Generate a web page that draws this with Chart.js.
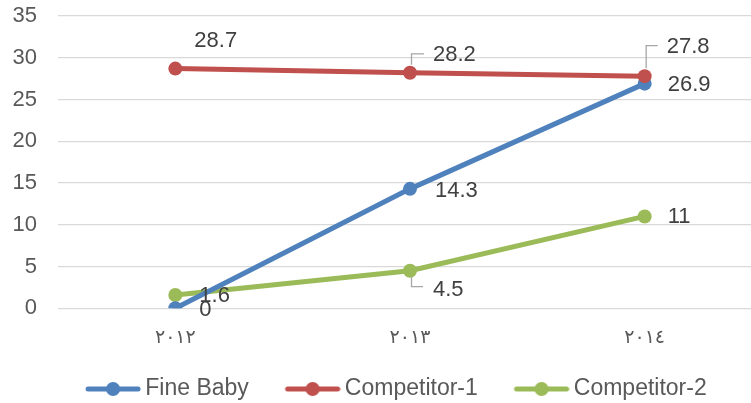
<!DOCTYPE html>
<html lang="en">
<head>
    <meta charset="UTF-8">
    <title>Fine Baby vs Competitors</title>
    <script src="https://cdn.jsdelivr.net/npm/chart.js"></script>
    <style>
        html, body { margin: 0; padding: 0; background: #fff; overflow: hidden; }
        #wrap { width: 751px; height: 403px; overflow: hidden; }
        #box { width: 769px; height: 412px; position: relative; }
    </style>
</head>
<body>
    <div id="wrap"><div id="box"><canvas id="salesChart" width="769" height="412"></canvas></div></div>

    <script>
        // data
        const years = ['٢٠١٢', '٢٠١٣', '٢٠١٤'];
        const fineBaby = [0, 14.3, 26.9];
        const competitor1 = [28.7, 28.2, 27.8];
        const competitor2 = [1.6, 4.5, 11];
        const yMin = 0, yMax = 35, yStep = 5;

        const blue = '#4F81BD', red = '#C0504D', green = '#9BBB59';
        const textGray = '#595959';

        // where each value label sits relative to its point (dx to text left, dy to text middle)
        const labelPlacement = [
            [{dx: 24, dy: 2}, {dx: 25, dy: 2}, {dx: 23, dy: 1.5}],
            [{dx: 19, dy: -28}, {dx: 23, dy: -18, leader: 'up'}, {dx: 22, dy: -29.5, leader: 'up'}],
            [{dx: 24, dy: 1}, {dx: 23, dy: 19, leader: 'down'}, {dx: 23, dy: 1}]
        ];

        // legend marker: thick line with a dot, sitting at the right end of a wider transparent image
        const markBox = 64.5;
        function legendMark(color) {
            const c = document.createElement('canvas');
            c.width = markBox + 15; c.height = 16;
            const g = c.getContext('2d');
            const x0 = c.width - 56;
            g.strokeStyle = color;
            g.lineWidth = 5;
            g.lineCap = 'round';
            g.beginPath(); g.moveTo(x0 + 3, 8); g.lineTo(x0 + 53, 8); g.stroke();
            g.fillStyle = color;
            g.beginPath(); g.arc(x0 + 28, 8, 7, 0, Math.PI * 2); g.fill();
            return c;
        }
        const legendMarks = [legendMark(blue), legendMark(red), legendMark(green)];

        // nudge the legend so its visible part is centred like the original
        const legendShift = {
            id: 'legendShift',
            afterLayout(chart) {
                const lg = chart.legend;
                if (!lg) return;
                const dx = 388 - (lg.left + lg.right) / 2;
                lg.left += dx; lg.right += dx;
            }
        };

        const valueLabels = {
            id: 'valueLabels',
            afterDatasetsDraw(chart) {
                const ctx = chart.ctx;
                ctx.save();
                ctx.font = '22px "Liberation Sans", Arial, sans-serif';
                ctx.textBaseline = 'middle';
                ctx.textAlign = 'left';
                chart.data.datasets.forEach((ds, di) => {
                    const meta = chart.getDatasetMeta(di);
                    meta.data.forEach((pt, i) => {
                        const p = labelPlacement[di][i];
                        const tx = pt.x + p.dx, ty = pt.y + p.dy;
                        if (p.leader) {
                            ctx.strokeStyle = '#A6A6A6';
                            ctx.lineWidth = 1.3;
                            ctx.beginPath();
                            if (p.leader === 'up') {
                                ctx.moveTo(pt.x + 1.5, pt.y - 8);
                                ctx.lineTo(pt.x + 1.5, ty - 1);
                                ctx.lineTo(tx - 9, ty - 1);
                            } else {
                                ctx.moveTo(pt.x + 1.5, pt.y + 6);
                                ctx.lineTo(pt.x + 1.5, ty - 3);
                                ctx.lineTo(tx - 10, ty - 3);
                            }
                            ctx.stroke();
                        }
                        ctx.fillStyle = '#404040';
                        ctx.fillText(String(ds.data[i]), tx, ty);
                    });
                });
                ctx.restore();
            }
        };

        function lineSet(label, data, color, order) {
            return {
                label: label,
                data: data,
                borderColor: color,
                backgroundColor: color,
                pointBackgroundColor: color,
                pointBorderColor: color,
                borderWidth: 5,
                pointRadius: 7,
                pointBorderWidth: 0,
                borderCapStyle: 'round',
                tension: 0,
                order: order
            };
        }

        const ctx = document.getElementById('salesChart').getContext('2d');
        const salesChart = new Chart(ctx, {
            type: 'line',
            data: {
                labels: years,
                datasets: [
                    lineSet('Fine Baby', fineBaby, blue, 1),
                    lineSet('Competitor-1', competitor1, red, 0),
                    lineSet('Competitor-2', competitor2, green, 2)
                ]
            },
            options: {
                responsive: false,
                animation: false,
                layout: { padding: { left: 0, right: 3, top: 16, bottom: 1.5 } },
                scales: {
                    x: {
                        offset: true,
                        grid: { display: false },
                        border: { display: false },
                        ticks: {
                            color: textGray,
                            font: { family: '"DejaVu Sans"', size: 19 },
                            padding: 10
                        },
                        afterFit(s) { s.height = 49.2; }
                    },
                    y: {
                        min: yMin,
                        max: yMax,
                        ticks: {
                            stepSize: yStep,
                            color: textGray,
                            font: { family: '"Liberation Sans", Arial', size: 22 },
                            padding: 21
                        },
                        grid: { color: '#D9D9D9', lineWidth: 1.3, drawTicks: false },
                        border: { display: false },
                        afterFit(s) { s.width = 58; s.paddingTop = 0; s.paddingBottom = 0; }
                    }
                },
                plugins: {
                    tooltip: { enabled: false },
                    legend: {
                        position: 'bottom',
                        labels: {
                            usePointStyle: true,
                            pointStyleWidth: markBox,
                            padding: 20,
                            color: textGray,
                            font: { family: '"Liberation Sans", Arial', size: 23 },
                            sort: (a, b) => a.datasetIndex - b.datasetIndex,
                            generateLabels(chart) {
                                const items = Chart.defaults.plugins.legend.labels.generateLabels(chart);
                                items.forEach(it => { it.pointStyle = legendMarks[it.datasetIndex]; it.rotation = 0; });
                                return items;
                            }
                        }
                    }
                }
            },
            plugins: [valueLabels, legendShift]
        });
    </script>
</body>
</html>
